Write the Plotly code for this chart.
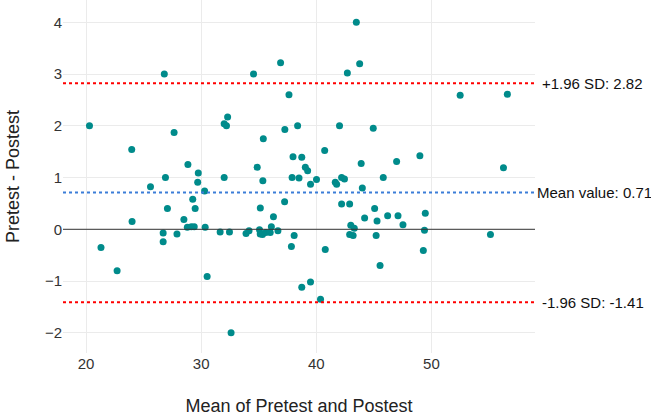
import plotly.graph_objects as go

# Bland-Altman data: mean of pretest/postest (x) and difference (y)
mean_vals = [20.3, 26.8, 27.65, 23.97, 28.85, 29.75, 26.9, 43.48, 36.9, 34.55,
             42.7, 43.77, 37.63, 32.3, 32.0, 32.2, 37.27, 38.38, 42.02, 44.95,
             35.4, 40.73, 37.98, 38.74, 34.87, 39.05, 39.25, 43.9, 46.98, 49.0,
             32.0, 35.36, 37.9, 38.5, 40.02, 42.2, 42.45, 45.82, 52.5, 56.6,
             56.26, 25.6, 27.07, 24.0, 28.5, 28.8, 26.7, 27.9, 21.3, 22.7,
             26.7, 29.15, 29.4, 29.48, 29.27, 29.7, 30.3, 30.35, 30.52, 31.65,
             32.46, 33.9, 34.16, 35.07, 35.13, 35.33, 35.62, 36.0, 36.1, 36.67,
             36.28, 35.14, 37.25, 39.5, 38.08, 37.84, 32.6, 38.74, 39.5, 40.37,
             40.78, 41.65, 41.77, 42.2, 42.9, 44.0, 43.0, 43.3, 42.9, 43.2,
             44.2, 45.07, 45.28, 45.2, 45.54, 46.2, 47.1, 47.53, 49.47, 49.4,
             49.3, 55.13]
diff_vals = [2.0, 3.0, 1.87, 1.54, 1.25, 1.09, 1.0, 4.0, 3.22, 3.0,
             3.02, 3.2, 2.6, 2.17, 2.04, 2.0, 1.93, 2.0, 2.0, 1.95,
             1.75, 1.52, 1.40, 1.39, 1.20, 1.20, 1.13, 1.27, 1.31, 1.42,
             1.0, 0.94, 1.0, 0.99, 0.96, 1.0, 0.97, 1.0, 2.59, 2.61,
             1.19, 0.82, 0.40, 0.15, 0.19, 0.04, -0.07, -0.09, -0.35, -0.80,
             -0.24, 0.05, 0.05, 0.40, 0.58, 0.91, 0.74, 0.04, -0.91, -0.05,
             -0.05, -0.08, -0.03, -0.01, -0.09, -0.10, -0.06, -0.06, 0.05, -0.03,
             0.24, 0.41, 0.53, 0.87, -0.12, -0.33, -2.0, -1.12, -1.02, -1.35,
             -0.39, 0.91, 0.87, 0.49, 0.49, 0.80, 0.08, 0.02, -0.10, -0.12,
             0.22, 0.40, 0.16, -0.12, -0.70, 0.26, 0.26, 0.09, 0.31, -0.02,
             -0.41, -0.10]

mean_diff = 0.71
upper_loa = 2.82
lower_loa = -1.41

x_ticks = [20, 30, 40, 50]
y_ticks = [-2, -1, 0, 1, 2, 3, 4]

FONT = "Arial, Liberation Sans, sans-serif"

fig = go.Figure()
fig.add_trace(go.Scatter(
    x=mean_vals, y=diff_vals, mode="markers",
    marker=dict(color="#008b8b", size=7),
    showlegend=False, hoverinfo="x+y"))

# horizontal reference lines
fig.add_shape(type="line", xref="paper", x0=0, x1=1, yref="y", y0=0, y1=0,
              line=dict(color="#333333", width=1))
fig.add_shape(type="line", xref="paper", x0=0, x1=1, yref="y",
              y0=upper_loa, y1=upper_loa, line=dict(color="#ff0000", width=2, dash="dot"))
fig.add_shape(type="line", xref="paper", x0=0, x1=1, yref="y",
              y0=mean_diff, y1=mean_diff, line=dict(color="#3b7dd8", width=2, dash="dot"))
fig.add_shape(type="line", xref="paper", x0=0, x1=1, yref="y",
              y0=lower_loa, y1=lower_loa, line=dict(color="#ff0000", width=2, dash="dot"))

ann_font = dict(family=FONT, size=15, color="#111111")
fig.add_annotation(x=1, xref="paper", y=upper_loa, yref="y", xanchor="left", xshift=5,
                   text=f"+1.96 SD: {upper_loa:.2f}", showarrow=False, font=ann_font)
fig.add_annotation(x=1, xref="paper", y=mean_diff, yref="y", xanchor="left", xshift=0,
                   text=f"Mean value: {mean_diff:.2f}", showarrow=False, font=ann_font)
fig.add_annotation(x=1, xref="paper", y=lower_loa, yref="y", xanchor="left", xshift=5,
                   text=f"-1.96 SD: {lower_loa:.2f}", showarrow=False, font=ann_font)

fig.update_layout(
    width=651, height=417,
    margin=dict(l=63, r=116, t=0, b=64),
    paper_bgcolor="white", plot_bgcolor="white",
    font=dict(family=FONT, color="#222222"),
    xaxis=dict(range=[18, 59], tickvals=x_ticks, showgrid=True, gridcolor="#ebebeb",
               gridwidth=1, zeroline=False, showline=False,
               tickfont=dict(size=15, color="#333333"),
               title=dict(text="Mean of Pretest and Postest", font=dict(size=18, color="#222222"),
                          standoff=28)),
    yaxis=dict(range=[-2.39, 4.43], tickvals=y_ticks, showgrid=True, gridcolor="#ebebeb",
               gridwidth=1, zeroline=False, showline=False,
               tickfont=dict(size=15, color="#333333"),
               title=dict(text="Pretest - Postest", font=dict(size=18, color="#222222"),
                          standoff=20)),
)

fig.write_html("out.html")
